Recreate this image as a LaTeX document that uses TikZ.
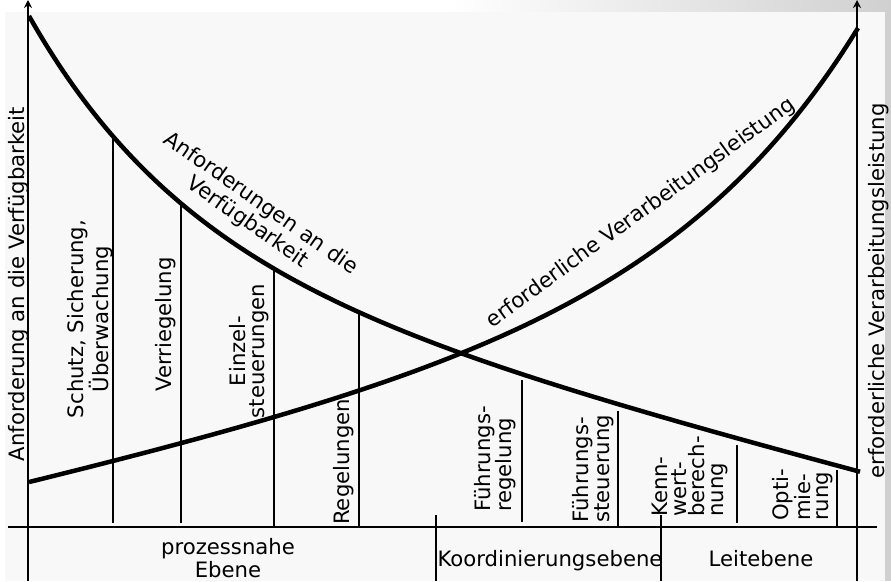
\documentclass[tikz,border=0pt]{standalone}
\usepackage{fontspec}
\setmainfont{DejaVu Sans}
\usetikzlibrary{arrows.meta}
\definecolor{bggray}{HTML}{F8F8F8}
\definecolor{shadowgray}{HTML}{D0D0D0}
\begin{document}
\begin{tikzpicture}[x=1pt,y=-1pt,
  curve/.style={line width=4.5pt, line join=round},
  sepline/.style={line width=1.5pt},
  axisline/.style={line width=1.8pt, -{Stealth[length=8pt,width=8pt]}},
  vlbl/.style={font=\fontsize{21.2}{18.5}\selectfont, inner sep=0pt, rotate=90},
  hlbl/.style={font=\fontsize{21.2}{23}\selectfont, inner sep=0pt}]
\useasboundingbox (0,0) rectangle (891,581);
% background and shadow
\fill[white] (0,0) rectangle (891,581);
\shade[left color=white, right color=shadowgray] (450,0) rectangle (891,12);
\fill[shadowgray] (885,12) rectangle (891,581);
\fill[bggray] (5,12) rectangle (885,581);

% axes and baseline
\coordinate (lb) at (28,581); \coordinate (lt) at (28,0);
\coordinate (rb) at (857,581); \coordinate (rt) at (857,0);
\coordinate (bl) at (8,527); \coordinate (br) at (877,527);
\draw[sepline] (bl) -- (br);
\draw[axisline] (lb) -- (lt);
\draw[axisline] (rb) -- (rt);

% level separators
\draw[sepline] (436,515) coordinate (s1t) -- (436,581) coordinate (s1b);
\draw[sepline] (661,515) coordinate (s2t) -- (661,581) coordinate (s2b);

% function lines
\draw[sepline] (113,136) -- (113,523);
\draw[sepline] (181,203) -- (181,523);
\draw[sepline] (274,268) -- (274,527);
\draw[sepline] (359,312) -- (359,527);
\draw[sepline] (522,380) -- (522,522);
\draw[sepline] (618,411) -- (618,527);
\draw[sepline] (737,445) -- (737,523);
\draw[sepline] (837,470) -- (837,527);

% curves
\draw[curve] plot[domain=0:831, samples=160, smooth]
  ({29+\x}, {527-(241*exp(-0.00625*\x)+270-0.26*\x)});
\draw[curve] plot[domain=0:829, samples=160, smooth]
  ({858-\x}, {527-(269.1*exp(-0.0052*\x)+229.9-0.2274*\x)});

% axis labels
\node[vlbl] (ya) at (19,284) {Anforderung an die Verfügbarkeit};
\node[vlbl] (yb) at (878.5,291) {erforderliche Verarbeitungsleistung};

% curve labels
\node[hlbl, rotate=-35, align=center] (c1) at (254,213) {Anforderungen an die\\Verfügbarkeit};
\node[hlbl, rotate=36] (c2) at (641,213) {erforderliche Verarbeitungsleistung};

% function labels
\node[vlbl, align=center] (f1) at (90,319) {Schutz, Sicherung,\\Überwachung};
\node[vlbl, anchor=west] (f2) at (166,392) {Verriegelung};
\node[vlbl, align=center] (f3) at (249,351) {Einzel-\\steuerungen};
\node[vlbl, anchor=west] (f4) at (344,525) {Regelungen};
\node[vlbl, anchor=west, align=left] (f5) at (495,512) {Führungs-\\regelung};
\node[vlbl, anchor=west, align=left] (f6) at (593,523) {Führungs-\\steuerung};
\node[vlbl, anchor=west, align=left] (f7) at (690,517) {Kenn-\\wert-\\berech-\\nung};
\node[vlbl, anchor=west, align=left] (f8) at (803,521) {Opti-\\mie-\\rung};

% level labels
\node[hlbl, align=center] (e1) at (228,558) {prozessnahe\\Ebene};
\node[hlbl, anchor=base] (e2) at (550,566) {Koordinierungsebene};
\node[hlbl, anchor=base] (e3) at (761,566) {Leitebene};
\end{tikzpicture}
\end{document}
